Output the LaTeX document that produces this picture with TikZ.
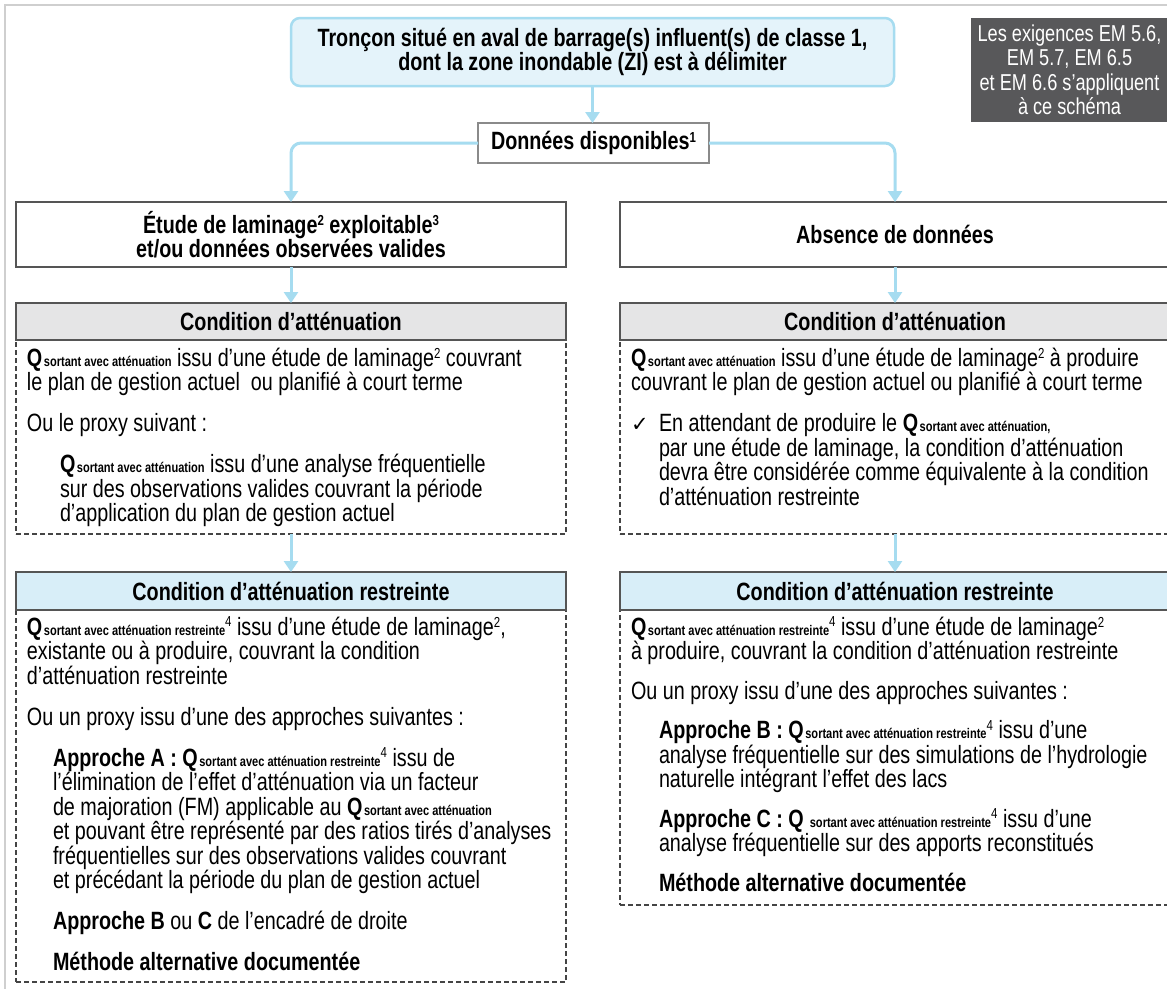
\documentclass[tikz,border=0pt]{standalone}
\usepackage{fontspec}
\setmainfont[FakeStretch=0.79]{Liberation Sans}
\newfontfamily\symf{DejaVu Sans}
\usetikzlibrary{arrows.meta}
\definecolor{arrowblue}{HTML}{A6DCF0}
\definecolor{titlefill}{HTML}{E4F3FA}
\definecolor{titleborder}{HTML}{A6DCF0}
\definecolor{headgray}{HTML}{E5E5E6}
\definecolor{headblue}{HTML}{D8EEF8}
\definecolor{notegray}{HTML}{58585A}
\definecolor{linegray}{HTML}{555555}
\definecolor{dongray}{HTML}{8A8A8A}
\definecolor{framegray}{HTML}{CFCFCF}
\definecolor{dashcol}{HTML}{444444}
\newcommand{\Qs}[1]{\textbf{Q}\hspace{1.5pt}{\fontsize{14}{14}\selectfont\bfseries #1}}
\newcommand{\mysup}[1]{\raisebox{7.5pt}{\fontsize{14.5}{14.5}\selectfont #1}}
\newcommand{\mysupr}[1]{\raisebox{8.5pt}{\fontsize{14.5}{14.5}\selectfont\mdseries #1}}
\newcommand{\fl}{\rule{0pt}{19pt}}
\begin{document}
\begin{tikzpicture}[x=1pt,y=-1pt,
  every node/.style={inner sep=0pt,outer sep=0pt},
  flow/.style={draw=arrowblue,line width=3pt,-{Triangle[length=11pt,width=14pt]}},
  titlebox/.style={draw=titleborder,line width=2.5pt,fill=titlefill,rounded corners=9pt,align=center,font=\bfseries\fontsize{25}{22.5}\selectfont},
  donbox/.style={draw=dongray,line width=1.3pt,fill=white,font=\bfseries\fontsize{25}{24.5}\selectfont},
  plainbox/.style={draw=linegray,line width=1.2pt,fill=white,align=center,font=\bfseries\fontsize{25}{24.5}\selectfont},
  headg/.style={draw=linegray,line width=1.2pt,fill=headgray,font=\bfseries\fontsize{25}{24.5}\selectfont},
  headb/.style={draw=linegray,line width=1.2pt,fill=headblue,font=\bfseries\fontsize{25}{24.5}\selectfont},
  dashbody/.style={draw=dashcol,line width=1.2pt,dash pattern=on 5pt off 3pt},
  txt/.style={anchor=north west,align=left,font=\fontsize{25}{24.5}\selectfont},
  notebox/.style={fill=notegray,text=white,align=center,font=\fontsize{23}{24.5}\selectfont},
]
\useasboundingbox (0,0) rectangle (1167,988);
\fill[white] (0,0) rectangle (1167,988);
\draw[framegray,line width=1.5pt] (5,995) -- (5,5) -- (1175,5);

% nodes
\node[titlebox,minimum width=603pt,minimum height=68pt] (top) at (592.5,52)
  {Tronçon situé en aval de barrage(s) influent(s) de classe 1,\\dont la zone inondable (ZI) est à délimiter};
\node[donbox,minimum width=231pt,minimum height=40pt] (don) at (593.5,143) {Données disponibles\mysup{1}};
\node[notebox,minimum width=197pt,minimum height=104pt] (note) at (1069.5,70)
  {Les exigences EM 5.6,\\EM 5.7, EM 6.5\\et EM 6.6 s’appliquent\\à ce schéma};

\node[plainbox,minimum width=550pt,minimum height=65pt] (etude) at (291,234.5)
  {Étude de laminage\mysup{2} exploitable\mysup{3}\\et/ou données observées valides};
\node[plainbox,minimum width=550pt,minimum height=65pt] (absence) at (895,234.5) {Absence de données};

\node[dashbody,minimum width=550pt,minimum height=194pt] (bodyL1) at (291,437) {};
\node[dashbody,minimum width=550pt,minimum height=194pt] (bodyR1) at (895,437) {};
\node[headg,minimum width=550pt,minimum height=37pt] (condL) at (291,321.5) {Condition d’atténuation};
\node[headg,minimum width=550pt,minimum height=37pt] (condR) at (895,321.5) {Condition d’atténuation};

\node[dashbody,minimum width=550pt,minimum height=372pt] (bodyL2) at (291,796) {};
\node[dashbody,minimum width=550pt,minimum height=295pt] (bodyR2) at (895,757.5) {};
\node[headb,minimum width=550pt,minimum height=38pt] (restL) at (291,591) {Condition d’atténuation restreinte};
\node[headb,minimum width=550pt,minimum height=38pt] (restR) at (895,591) {Condition d’atténuation restreinte};

% left body 1
\node[txt] (tL1a) at (27,347) {\fl\Qs{sortant avec atténuation} issu d’une étude de laminage\mysup{2} couvrant\\le plan de gestion actuel\ \ ou planifié à court terme};
\node[txt] (tL1b) at (27,412.5) {\fl Ou le proxy suivant :};
\node[txt] (tL1c) at (60,453.5) {\fl\Qs{sortant avec atténuation} issu d’une analyse fréquentielle\\sur des observations valides couvrant la période\\d’application du plan de gestion actuel};

% right body 1
\node[txt] (tR1a) at (631,347) {\fl\Qs{sortant avec atténuation} issu d’une étude de laminage\mysup{2} à produire\\couvrant le plan de gestion actuel ou planifié à court terme};
\node[txt] (chk) at (631,412.5) {\fl{\fontsize{21}{21}\symf ✓}};
\node[txt] (tR1b) at (659,412.5) {\fl En attendant de produire le \Qs{sortant avec atténuation,}\\par une étude de laminage, la condition d’atténuation\\devra être considérée comme équivalente à la condition\\d’atténuation restreinte};

% left body 2
\node[txt] (tL2a) at (27,616) {\fl\Qs{sortant avec atténuation restreinte}\mysupr{4} issu d’une étude de laminage\mysup{2},\\existante ou à produire, couvrant la condition\\d’atténuation restreinte};
\node[txt] (tL2b) at (27,706) {\fl Ou un proxy issu d’une des approches suivantes :};
\node[txt] (tL2c) at (53,747) {\fl\textbf{Approche A : }\Qs{sortant avec atténuation restreinte}\mysupr{4} issu de\\l’élimination de l’effet d’atténuation via un facteur\\de majoration (FM) applicable au \Qs{sortant avec atténuation}\\et pouvant être représenté par des ratios tirés d’analyses\\fréquentielles sur des observations valides couvrant\\et précédant la période du plan de gestion actuel};
\node[txt] (tL2d) at (53,910.5) {\fl\textbf{Approche B} ou \textbf{C} de l’encadré de droite};
\node[txt] (tL2e) at (53,951.5) {\fl\textbf{Méthode alternative documentée}};

% right body 2
\node[txt] (tR2a) at (631,616) {\fl\Qs{sortant avec atténuation restreinte}\mysupr{4} issu d’une étude de laminage\mysup{2}\\à produire, couvrant la condition d’atténuation restreinte};
\node[txt] (tR2b) at (631,680) {\fl Ou un proxy issu d’une des approches suivantes :};
\node[txt] (tR2c) at (659,719.5) {\fl\textbf{Approche B : }\Qs{sortant avec atténuation restreinte}\mysupr{4} issu d’une\\analyse fréquentielle sur des simulations de l’hydrologie\\naturelle intégrant l’effet des lacs};
\node[txt] (tR2d) at (659,808) {\fl\textbf{Approche C : Q}\hspace{6pt}{\fontsize{14}{14}\selectfont\bfseries sortant avec atténuation restreinte}\mysupr{4} issu d’une\\analyse fréquentielle sur des apports reconstitués};
\node[txt] (tR2e) at (659,872) {\fl\textbf{Méthode alternative documentée}};

% connectors
\draw[flow] (top.south) -- (top.south |- don.north);
\draw[flow,rounded corners=10pt] (don.west) -| (etude.north);
\draw[flow,rounded corners=10pt] (don.east) -| (absence.north);
\draw[flow] (etude.south) -- (condL.north);
\draw[flow] (absence.south) -- (condR.north);
\draw[flow] (bodyL1.south) -- (restL.north);
\draw[flow] (bodyR1.south) -- (restR.north);
\end{tikzpicture}
\end{document}
